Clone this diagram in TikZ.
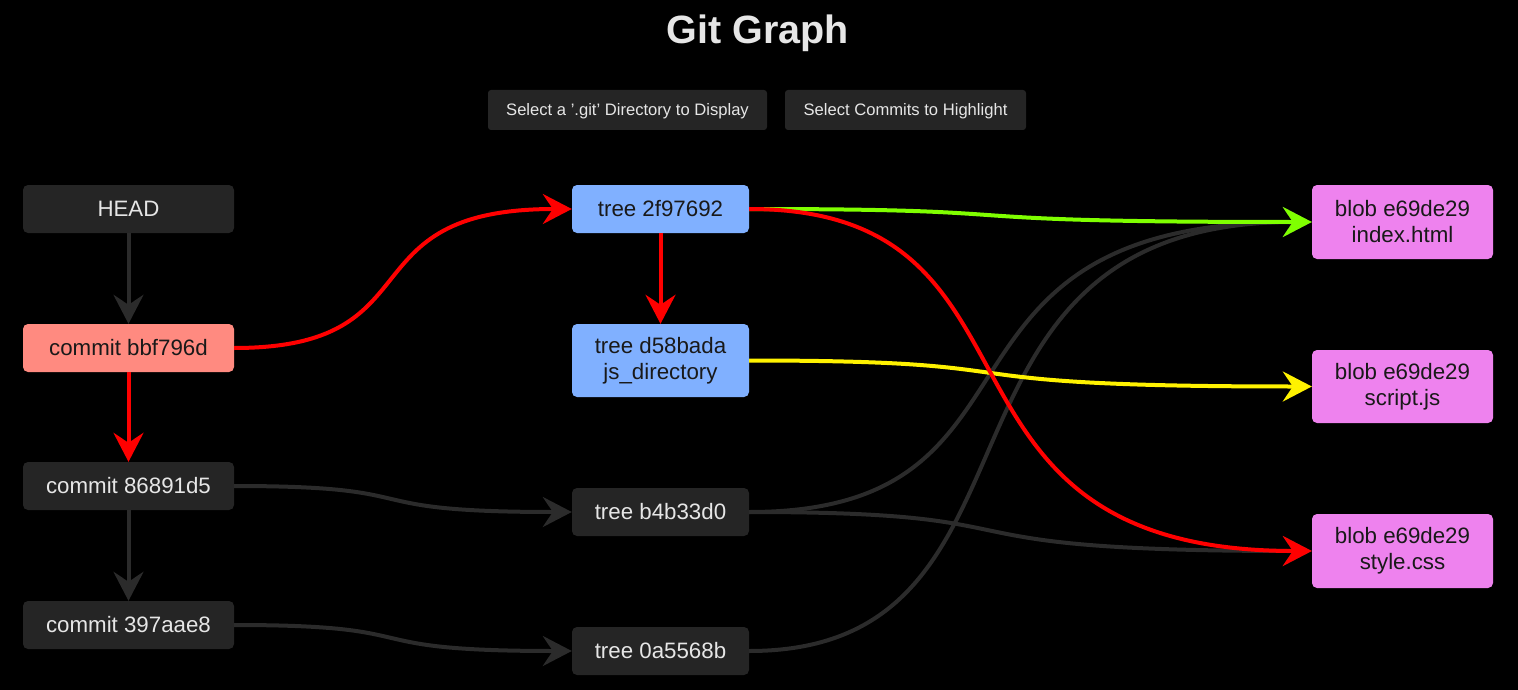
\documentclass[tikz,border=0pt]{standalone}
\usepackage{fontspec}
\setmainfont{Liberation Sans}
\usetikzlibrary{arrows.meta}
\definecolor{bgdark}{HTML}{252525}
\definecolor{edgegray}{HTML}{2B2B2B}
\definecolor{lighttext}{HTML}{E6E6E6}
\definecolor{salmonnode}{HTML}{FF8A80}
\definecolor{bluenode}{HTML}{80B0FF}
\definecolor{violetnode}{HTML}{EE82EE}
\definecolor{chartreuse}{HTML}{7FFF00}
\tikzset{
  gbox/.style={rectangle, rounded corners=5pt, inner sep=0pt, align=center,
    font=\fontsize{22.3}{26}\selectfont},
  darknode/.style={gbox, fill=bgdark, text=lighttext},
  commitred/.style={gbox, fill=salmonnode, text=black!90},
  treeblue/.style={gbox, fill=bluenode, text=black!90},
  blobnode/.style={gbox, fill=violetnode, text=black!90},
  btntext/.style={text=lighttext, font=\fontsize{16.6}{19}\selectfont},
  edge/.style={line width=4pt, -{Stealth[length=29pt, width=30pt, inset=10pt]}},
}
\begin{document}
\begin{tikzpicture}[x=1pt, y=-1pt]
\fill[black] (0,0) rectangle (1518,690);
\useasboundingbox (0,0) rectangle (1518,690);

\node[text=lighttext, font=\fontsize{39.5}{44}\bfseries\selectfont] (title) at (758,33) {Git Graph};
\fill[bgdark, rounded corners=3pt] (488,90) rectangle (767,130);
\fill[bgdark, rounded corners=3pt] (785,90) rectangle (1026,130);
\node[btntext] (btn1) at (627.5,111.5) {Select a '.git' Directory to Display};
\node[btntext] (btn2) at (905.5,111.5) {Select Commits to Highlight};

% commits
\node[darknode, minimum width=211pt, minimum height=48pt] (head) at (128.5,209) {HEAD};
\node[commitred, minimum width=211pt, minimum height=48pt] (c1) at (128.5,348) {commit bbf796d};
\node[darknode, minimum width=211pt, minimum height=48pt] (c2) at (128.5,486) {commit 86891d5};
\node[darknode, minimum width=211pt, minimum height=48pt] (c3) at (128.5,625) {commit 397aae8};

% trees
\node[treeblue, minimum width=177pt, minimum height=48pt] (t1) at (660.5,209) {tree 2f97692};
\node[treeblue, minimum width=177pt, minimum height=73pt] (t2) at (660.5,360.5) {tree d58bada\\js\_directory};
\node[darknode, minimum width=177pt, minimum height=48pt] (t3) at (660.5,512) {tree b4b33d0};
\node[darknode, minimum width=177pt, minimum height=48pt] (t4) at (660.5,651) {tree 0a5568b};

% blobs
\node[blobnode, minimum width=181pt, minimum height=74pt] (b1) at (1402.5,222) {blob e69de29\\index.html};
\node[blobnode, minimum width=181pt, minimum height=73pt] (b2) at (1402.5,386.5) {blob e69de29\\script.js};
\node[blobnode, minimum width=181pt, minimum height=74pt] (b3) at (1402.5,551) {blob e69de29\\style.css};

% gray edges
\draw[edge, edgegray] (head.south) -- (c1.north);
\draw[edge, edgegray] (c2.south) -- (c3.north);
\draw[edge, edgegray] (c2.east) .. controls +(205,0) and +(-230,0) .. (t3.west);
\draw[edge, edgegray] (c3.east) .. controls +(205,0) and +(-230,0) .. (t4.west);
\draw[edge, edgegray] (t3.east) .. controls +(320,0) and +(-410,0) .. (b1.west);
\draw[edge, edgegray] (t3.east) .. controls +(320,0) and +(-410,0) .. (b3.west);
\draw[edge, edgegray] (t4.east) .. controls +(320,0) and +(-410,0) .. (b1.west);

% highlighted edges
\draw[edge, red] (c1.south) -- (c2.north);
\draw[edge, red] (t1.south) -- (t2.north);
\draw[edge, red] (c1.east) .. controls +(205,0) and +(-230,0) .. (t1.west);
\draw[edge, chartreuse] (t1.east) .. controls +(320,0) and +(-410,0) .. (b1.west);
\draw[edge, yellow] (t2.east) .. controls +(320,0) and +(-410,0) .. (b2.west);
\draw[edge, red] (t1.east) .. controls +(320,0) and +(-410,0) .. (b3.west);
\end{tikzpicture}
\end{document}
